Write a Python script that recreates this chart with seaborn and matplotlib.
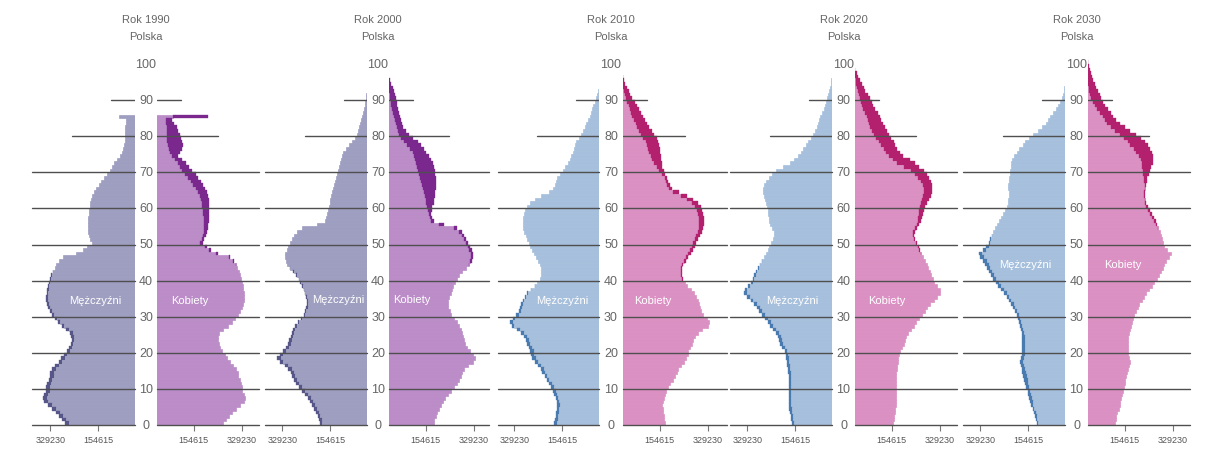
import numpy as np
import matplotlib
matplotlib.use("Agg")
import matplotlib.pyplot as plt
import seaborn as sns

# ---------------- data (thousands of persons, single years of age) ----------------
years = ["1990", "2000", "2010", "2020", "2030"]
age_ticks = list(range(0, 101, 10))
value_ticks = [154615, 329230]
value_tick_labels = ["154615", "329230"]

men_1990 = [276, 287, 298, 308, 322, 340, 352, 358, 354, 345,
            344, 342, 336, 332, 330, 322, 312, 300, 290, 280,
            268, 262, 256, 252, 254, 258, 272, 288, 302, 314,
            324, 332, 338, 342, 344, 344, 343, 341, 338, 335,
            331, 326, 320, 314, 308, 300, 282, 236, 210, 196,
            180, 184, 190, 192, 193, 193, 193, 192, 190, 188,
            186, 184, 182, 178, 170, 162, 152, 144, 134, 124,
            114, 106, 98, 88, 78, 70, 66, 62, 60, 58,
            58, 57, 57, 56, 55, 80]
women_1990 = [263, 274, 285, 295, 308, 325, 337, 343, 339, 331,
              330, 328, 322, 318, 316, 309, 300, 288, 278, 268,
              258, 252, 247, 243, 245, 249, 263, 279, 293, 305,
              316, 325, 331, 335, 338, 338, 337, 336, 333, 331,
              328, 324, 319, 314, 309, 302, 286, 242, 217, 204,
              189, 194, 201, 205, 207, 209, 210, 212, 212, 212,
              212, 212, 211, 208, 202, 196, 188, 181, 172, 162,
              150, 140, 126, 112, 100, 106, 112, 115, 113, 110,
              106, 100, 93, 85, 76, 207]

men_2000 = [194, 196, 200, 208, 215, 222, 228, 236, 246, 258,
            270, 280, 288, 294, 300, 308, 320, 338, 348, 338,
            326, 316, 308, 304, 300, 295, 290, 283, 274, 263,
            252, 246, 242, 240, 241, 244, 248, 252, 258, 264,
            270, 280, 290, 302, 312, 318, 320, 319, 314, 308,
            301, 294, 288, 278, 260, 205, 176, 170, 166, 162,
            160, 158, 155, 152, 149, 146, 142, 138, 134, 130,
            127, 124, 120, 116, 112, 108, 100, 88, 76, 66,
            58, 54, 50, 47, 44, 40, 36, 33, 30, 28,
            26, 24, 22]
women_2000 = [184, 187, 191, 198, 205, 212, 218, 226, 235, 246,
              258, 268, 276, 282, 288, 296, 308, 326, 334, 328,
              316, 306, 299, 295, 291, 287, 283, 277, 269, 258,
              248, 242, 238, 237, 238, 241, 246, 250, 256, 262,
              268, 278, 289, 301, 314, 322, 326, 327, 324, 318,
              311, 302, 296, 286, 268, 222, 184, 178, 176, 177,
              180, 184, 186, 188, 190, 192, 193, 194, 192, 190,
              188, 185, 182, 175, 166, 158, 148, 137, 126, 110,
              96, 84, 74, 68, 64, 61, 58, 55, 52, 50,
              48, 44, 40, 35, 30, 25]

men_2010 = [184, 182, 180, 178, 176, 174, 176, 180, 184, 190,
            196, 204, 212, 220, 228, 234, 244, 254, 264, 270,
            272, 278, 284, 288, 294, 304, 320, 340, 346, 336,
            322, 314, 310, 306, 300, 292, 282, 270, 256, 246,
            238, 234, 232, 232, 236, 244, 252, 260, 266, 272,
            276, 282, 288, 294, 298, 300, 300, 298, 294, 290,
            284, 272, 256, 232, 202, 190, 182, 178, 174, 164,
            154, 144, 136, 128, 122, 117, 112, 108, 104, 96,
            86, 80, 74, 68, 62, 56, 52, 48, 44, 38,
            32, 28, 25, 22]
women_2010 = [174, 172, 170, 168, 166, 165, 167, 170, 174, 180,
              186, 194, 202, 210, 217, 223, 233, 242, 252, 258,
              260, 266, 272, 277, 283, 294, 310, 330, 336, 327,
              314, 307, 303, 300, 295, 288, 279, 268, 255, 246,
              239, 236, 235, 236, 241, 250, 259, 268, 275, 282,
              287, 294, 301, 308, 313, 316, 317, 316, 313, 310,
              305, 294, 278, 255, 224, 200, 192, 186, 182, 176,
              170, 165, 162, 160, 159, 158, 156, 154, 150, 144,
              136, 126, 118, 110, 102, 95, 88, 80, 72, 64,
              55, 48, 42, 36, 30, 26, 22]

men_2020 = [168, 170, 172, 175, 178, 180, 180, 180, 180, 180,
            180, 180, 180, 180, 181, 182, 184, 186, 188, 190,
            194, 202, 210, 216, 220, 226, 236, 246, 256, 266,
            276, 286, 296, 306, 318, 330, 342, 340, 328, 318,
            310, 304, 298, 292, 284, 278, 270, 262, 256, 250,
            244, 236, 232, 234, 240, 246, 250, 252, 254, 256,
            258, 262, 266, 270, 272, 272, 268, 262, 252, 240,
            226, 200, 176, 160, 146, 136, 128, 118, 108, 98,
            90, 84, 78, 73, 68, 64, 58, 52, 47, 43,
            40, 36, 32, 29, 26, 24, 22]
women_2020 = [160, 162, 164, 166, 169, 171, 171, 171, 171, 171,
              171, 171, 171, 171, 172, 173, 175, 177, 179, 181,
              184, 191, 199, 205, 209, 215, 225, 235, 245, 255,
              265, 275, 285, 296, 308, 320, 332, 331, 320, 311,
              304, 299, 294, 289, 282, 277, 270, 263, 258, 253,
              248, 241, 238, 241, 248, 256, 261, 265, 269, 273,
              278, 285, 291, 297, 301, 303, 301, 297, 290, 282,
              272, 256, 240, 222, 198, 184, 176, 168, 162, 154,
              146, 140, 132, 125, 118, 112, 104, 96, 88, 82,
              76, 68, 60, 53, 46, 40, 34, 28, 23]

men_2030 = [125, 128, 132, 136, 140, 144, 148, 151, 155, 158,
            162, 166, 170, 174, 177, 180, 182, 184, 182, 180,
            179, 178, 178, 178, 178, 179, 181, 184, 188, 193,
            198, 204, 210, 218, 226, 234, 244, 254, 264, 274,
            284, 292, 300, 306, 312, 320, 330, 334, 320, 308,
            300, 294, 288, 282, 276, 270, 262, 254, 247, 240,
            234, 230, 228, 227, 227, 228, 228, 227, 225, 223,
            222, 220, 218, 215, 208, 198, 188, 176, 166, 152,
            138, 120, 104, 92, 84, 76, 66, 56, 47, 40,
            34, 30, 27, 24, 22]
women_2030 = [119, 122, 125, 129, 133, 137, 140, 143, 146, 149,
              152, 155, 158, 161, 164, 169, 171, 173, 171, 169,
              168, 167, 167, 167, 167, 172, 174, 177, 181, 185,
              190, 196, 202, 209, 217, 225, 234, 244, 253, 263,
              273, 280, 288, 294, 300, 307, 317, 322, 310, 300,
              294, 290, 286, 282, 278, 274, 268, 262, 256, 248,
              240, 234, 230, 228, 228, 230, 232, 235, 238, 242,
              246, 252, 258, 260, 258, 254, 248, 240, 228, 214,
              196, 176, 156, 138, 124, 114, 104, 94, 85, 77,
              70, 64, 58, 52, 46, 40, 36, 32, 28, 25, 22]

men = [men_1990, men_2000, men_2010, men_2020, men_2030]
women = [women_1990, women_2000, women_2010, women_2020, women_2030]

# ---------------- styling / layout ----------------
sns.set_style("white")
plt.rcParams["font.family"] = ["Liberation Sans", "DejaVu Sans"]

old_cols = dict(m_light="#9e9ec1", m_dark="#565689", w_light="#bb8cc8", w_dark="#7a288d")
new_cols = dict(m_light="#a6bfdc", m_dark="#4a7bb0", w_light="#db90c3", w_dark="#b3216e")
palettes = [old_cols, old_cols, new_cols, new_cols, new_cols]

W, H = 1214, 456
fig = plt.figure(figsize=(W / 100, H / 100), dpi=100)

# (men outer, men inner, women inner, women outer) in pixels
panel_px = [(32, 135, 157, 259), (265, 367, 389, 489), (498, 599, 623, 727),
            (730, 832, 855, 957), (963, 1065, 1088, 1190)]
# label positions: men x (thousands), women x (thousands), age
label_pos = [(167, 142, 34.6), (127, 106, 35.0), (156, 131, 34.5),
             (167, 138, 34.5), (167, 149, 44.6)]

AGE0_PX = 426
PX_PER_YEAR = 3.61
TOP_AGE = 101
PX_PER_UNIT = 0.2749 / 1000.0   # px per person
OFFSET_PX = 6.0                  # value 0 sits this far inside the centre gap
ax_bottom = (H - AGE0_PX) / H
ax_height = TOP_AGE * PX_PER_YEAR / H
grid_c = "#4f4f4f"
text_c = "#666666"


def draw_bars(ax, values, both, dark, light):
    ages = np.arange(len(values)) + 0.5
    # common part (smaller of the two sexes) in the light colour
    sns.barplot(x=both, y=ages, orient="y", native_scale=True, width=1,
                color=light, saturation=1, linewidth=0.5, edgecolor=light,
                errorbar=None, ax=ax)
    # surplus of this sex over the other one in the dark colour
    excess = values - both
    keep = excess > 0
    ax.barh(ages[keep], excess[keep], left=both[keep], height=1, color=dark,
            linewidth=0.25, edgecolor=dark)


for i, yr in enumerate(years):
    mL, mR, wL, wR = panel_px[i]
    pal = palettes[i]
    n = 101
    m = np.pad(np.array(men[i], float), (0, n - len(men[i]))) * 1000
    f = np.pad(np.array(women[i], float), (0, n - len(women[i]))) * 1000
    both = np.minimum(m, f)

    axm = fig.add_axes([mL / W, ax_bottom, (mR - mL) / W, ax_height])
    axw = fig.add_axes([wL / W, ax_bottom, (wR - wL) / W, ax_height])
    axc = fig.add_axes([mR / W, ax_bottom, (wL - mR) / W, ax_height])

    draw_bars(axm, m, both, pal["m_dark"], pal["m_light"])
    draw_bars(axw, f, both, pal["w_dark"], pal["w_light"])

    lo = OFFSET_PX / PX_PER_UNIT
    axm.set_xlim((mR - mL + OFFSET_PX) / PX_PER_UNIT, lo)
    axw.set_xlim(lo, (wR - wL + OFFSET_PX) / PX_PER_UNIT)

    for ax, side in ((axm, "m"), (axw, "w")):
        ax.set_ylim(0, TOP_AGE)
        ax.set_xlabel("")
        ax.set_ylabel("")
        ax.set_yticks([])
        ax.set_xticks(value_ticks)
        ax.set_xticklabels(value_tick_labels)
        ax.tick_params(axis="x", bottom=True, length=4, width=0.8, color="#777777",
                       labelsize=6.5, labelcolor="#555555", pad=3, direction="out")
        for s in ax.spines.values():
            s.set_visible(False)
        for a in age_ticks[:8]:
            ax.axhline(a, color=grid_c, lw=1.0, zorder=5, clip_on=False)
        if side == "m":
            ax.axhline(80, xmin=0.39, xmax=1, color=grid_c, lw=1.0, zorder=5)
            ax.axhline(90, xmin=0.77, xmax=1, color=grid_c, lw=1.0, zorder=5)
        else:
            ax.axhline(80, xmin=0, xmax=0.60, color=grid_c, lw=1.0, zorder=5)
            ax.axhline(90, xmin=0, xmax=0.235, color=grid_c, lw=1.0, zorder=5)

    lm, lw_, la = label_pos[i]
    axm.text(lm * 1000, la, "Mężczyźni", color="white", ha="center", va="center",
             fontsize=8, zorder=6)
    axw.text(lw_ * 1000, la, "Kobiety", color="white", ha="center", va="center",
             fontsize=8, zorder=6)

    axc.set_xlim(0, 1)
    axc.set_ylim(0, TOP_AGE)
    axc.axis("off")
    for a in age_ticks:
        axc.text(0.5, a, str(a), ha="center", va="center", fontsize=9, color=text_c)

    cx = (mR + wL) / 2 / W
    fig.text(cx, 1 - 20 / H, f"Rok {yr}", ha="center", va="center", fontsize=8, color=text_c)
    fig.text(cx, 1 - 37 / H, "Polska", ha="center", va="center", fontsize=8, color=text_c)

fig.savefig("out.png", dpi=100, facecolor="white")
